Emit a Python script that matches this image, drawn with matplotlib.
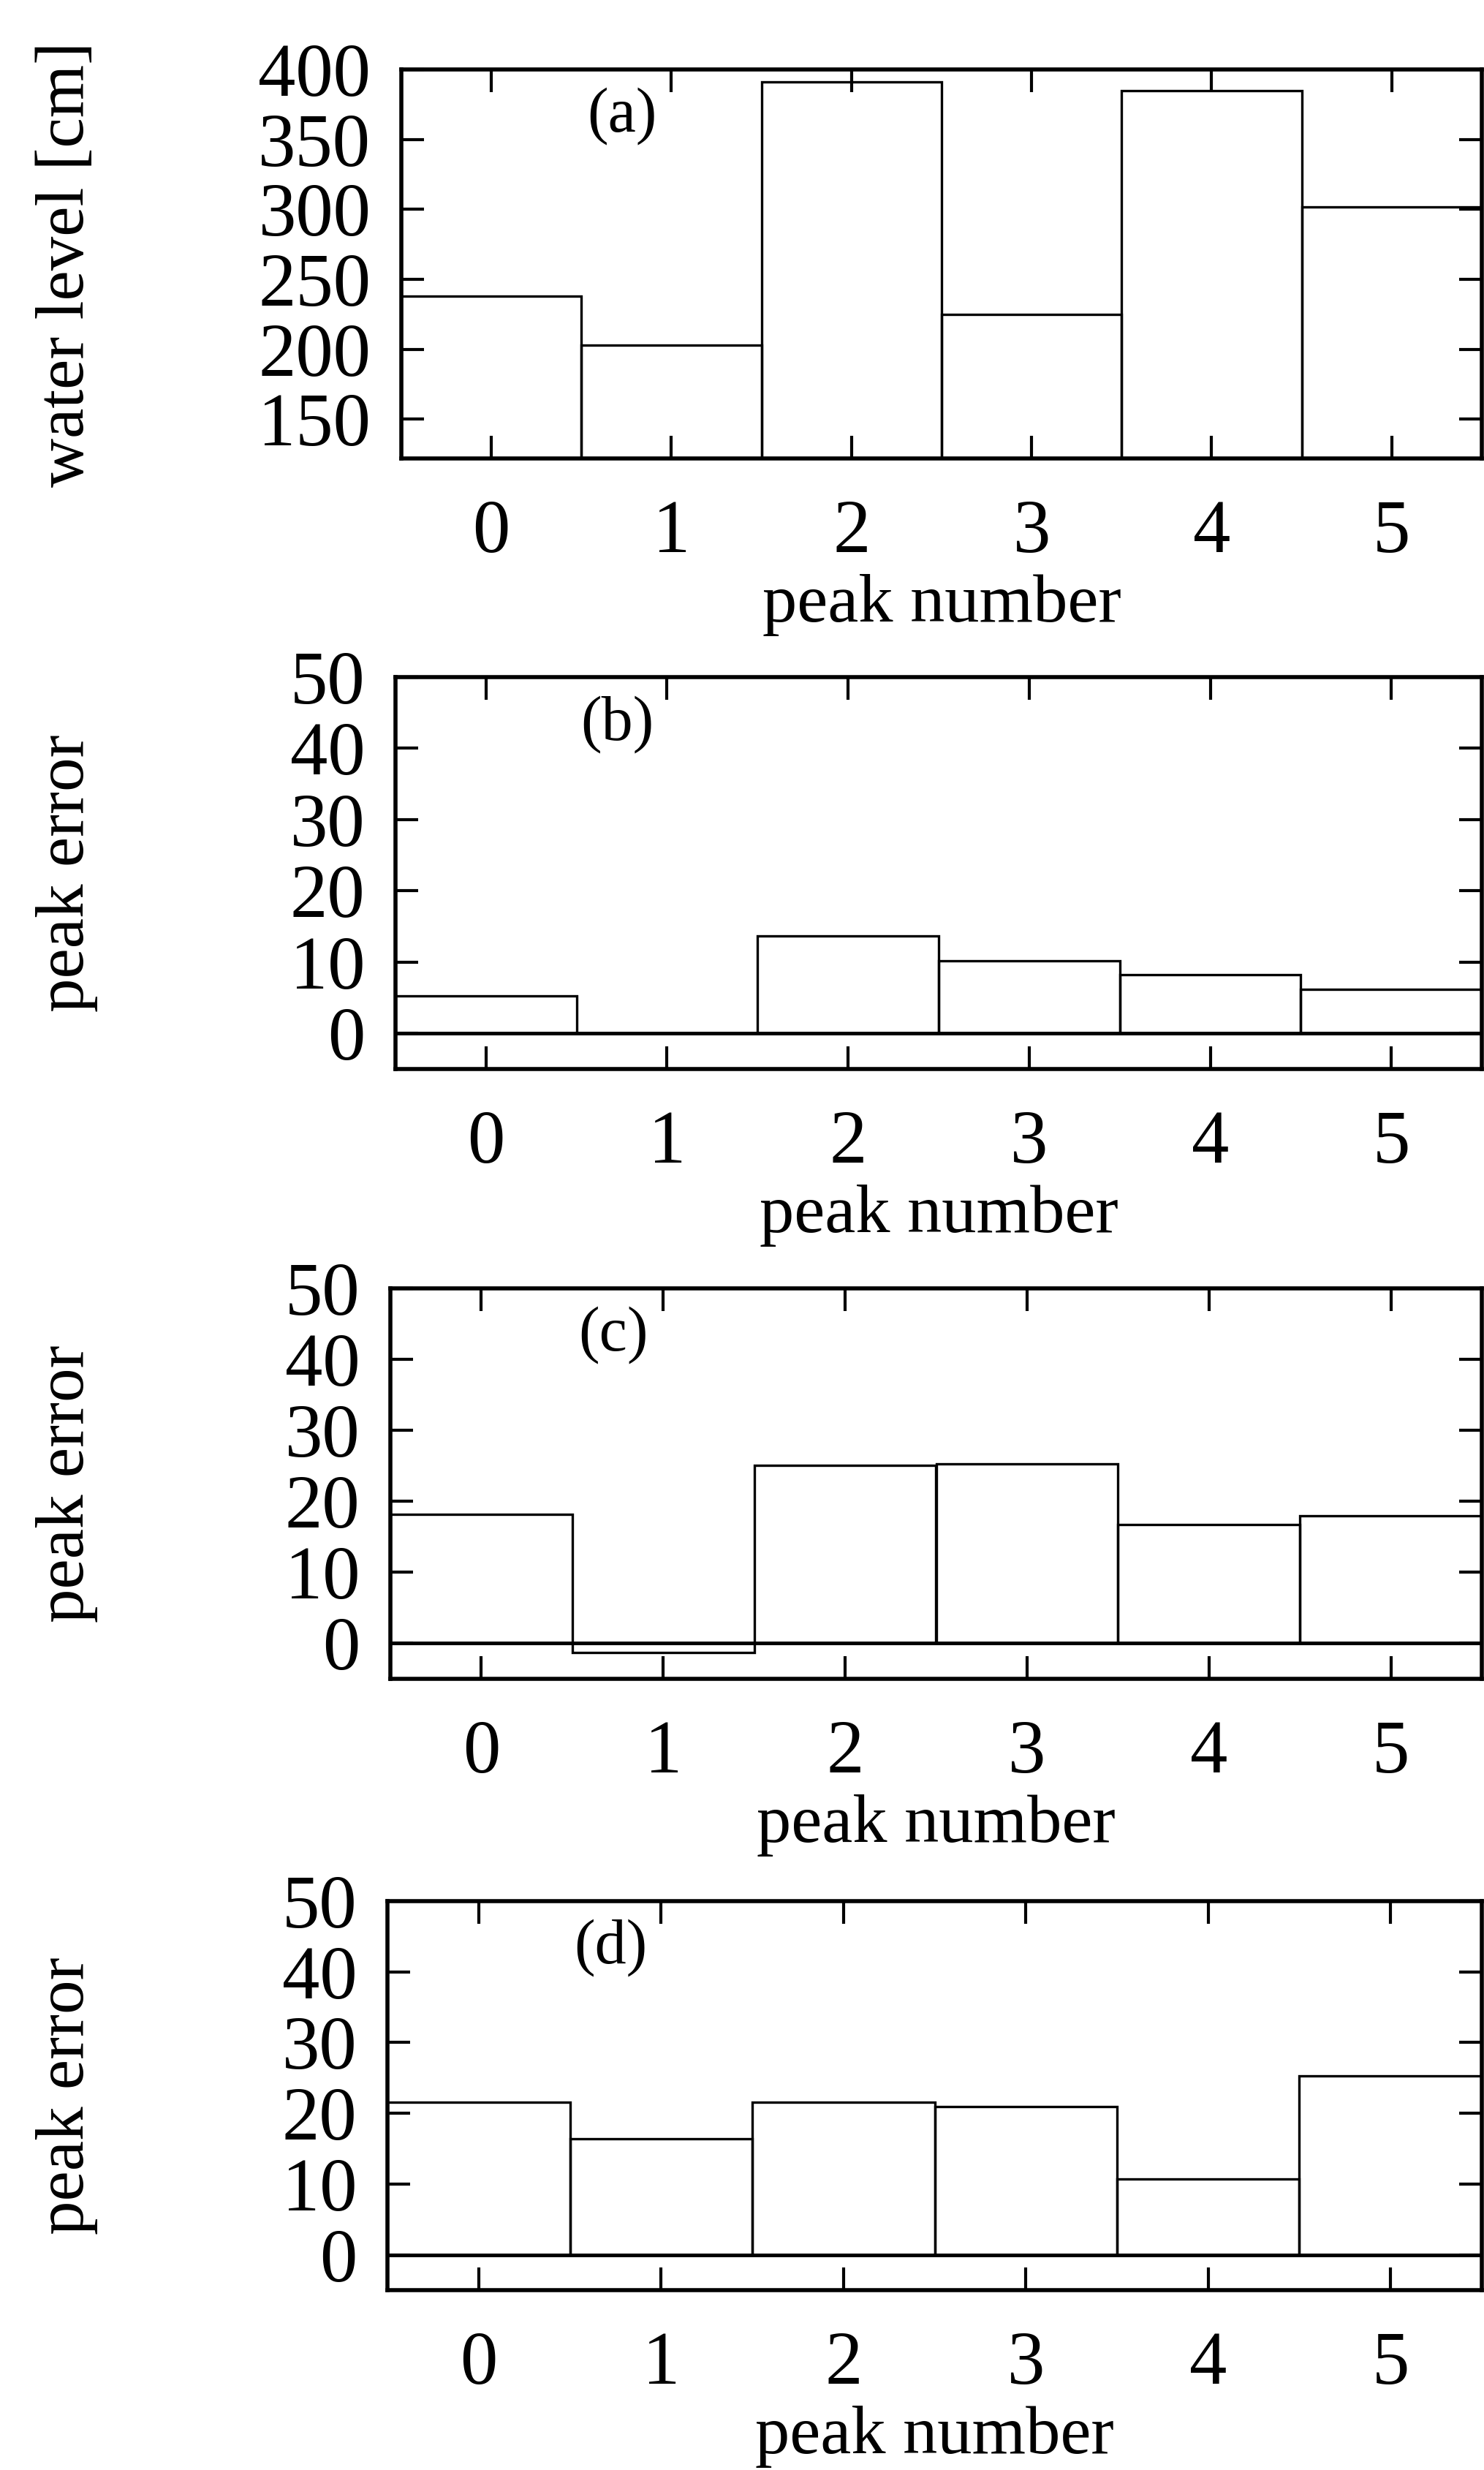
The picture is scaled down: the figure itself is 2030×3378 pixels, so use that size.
import matplotlib
matplotlib.use("Agg")
import matplotlib.pyplot as plt

plt.rcParams['font.family'] = ['Liberation Serif', 'DejaVu Serif']

peaks = [0, 1, 2, 3, 4, 5]
water_level = [238, 203, 391, 225, 385, 302]
err_b = [5.3, 0.0, 13.7, 10.2, 8.2, 6.2]
err_c = [18.2, -1.3, 25.1, 25.3, 16.7, 18.0]
err_d = [21.6, 16.4, 21.6, 20.9, 10.7, 25.3]

W, H = 2031, 3378
fig = plt.figure(figsize=(W / 100, H / 100), dpi=100)

# (left, top, bottom) in pixels for each panel
boxes = [(549, 95, 627), (541, 926, 1462), (534, 1762, 2296), (530, 2600, 3132)]
right = 2027

panels = [
    (water_level, "(a)", "water level [cm]", (122, 400), [150, 200, 250, 300, 350, 400]),
    (err_b, "(b)", "peak error", (-5, 50), [0, 10, 20, 30, 40, 50]),
    (err_c, "(c)", "peak error", (-5, 50), [0, 10, 20, 30, 40, 50]),
    (err_d, "(d)", "peak error", (-5, 50), [0, 10, 20, 30, 40, 50]),
]

for (l, t, b), (vals, tag, ylab, ylim, yticks) in zip(boxes, panels):
    ax = fig.add_axes([l / W, 1 - b / H, (right - l) / W, (b - t) / H])
    ax.bar(peaks, vals, width=1.0, fill=False, edgecolor='black', linewidth=2.4)
    if ylim[0] < 0:
        ax.axhline(0, color='black', linewidth=3.6)
    ax.set_xlim(-0.5, 5.5)
    ax.set_ylim(*ylim)
    ax.set_xticks(peaks)
    ax.set_yticks(yticks)
    ax.tick_params(direction='in', top=True, right=True, length=22, width=3,
                   labelsize=74, pad=40)
    ax.tick_params(axis='y', pad=30)
    for s in ax.spines.values():
        s.set_linewidth(4)
    ax.set_xlabel("peak number", fontsize=68, labelpad=6)
    ax.text(0.204, 0.88, tag, transform=ax.transAxes, fontsize=62,
            ha='center', va='center')
    fig.text(92 / W, 1 - (t + b) / 2 / H, ylab, rotation=90, fontsize=67,
             ha='center', va='center')

fig.savefig("out.png", dpi=100)
